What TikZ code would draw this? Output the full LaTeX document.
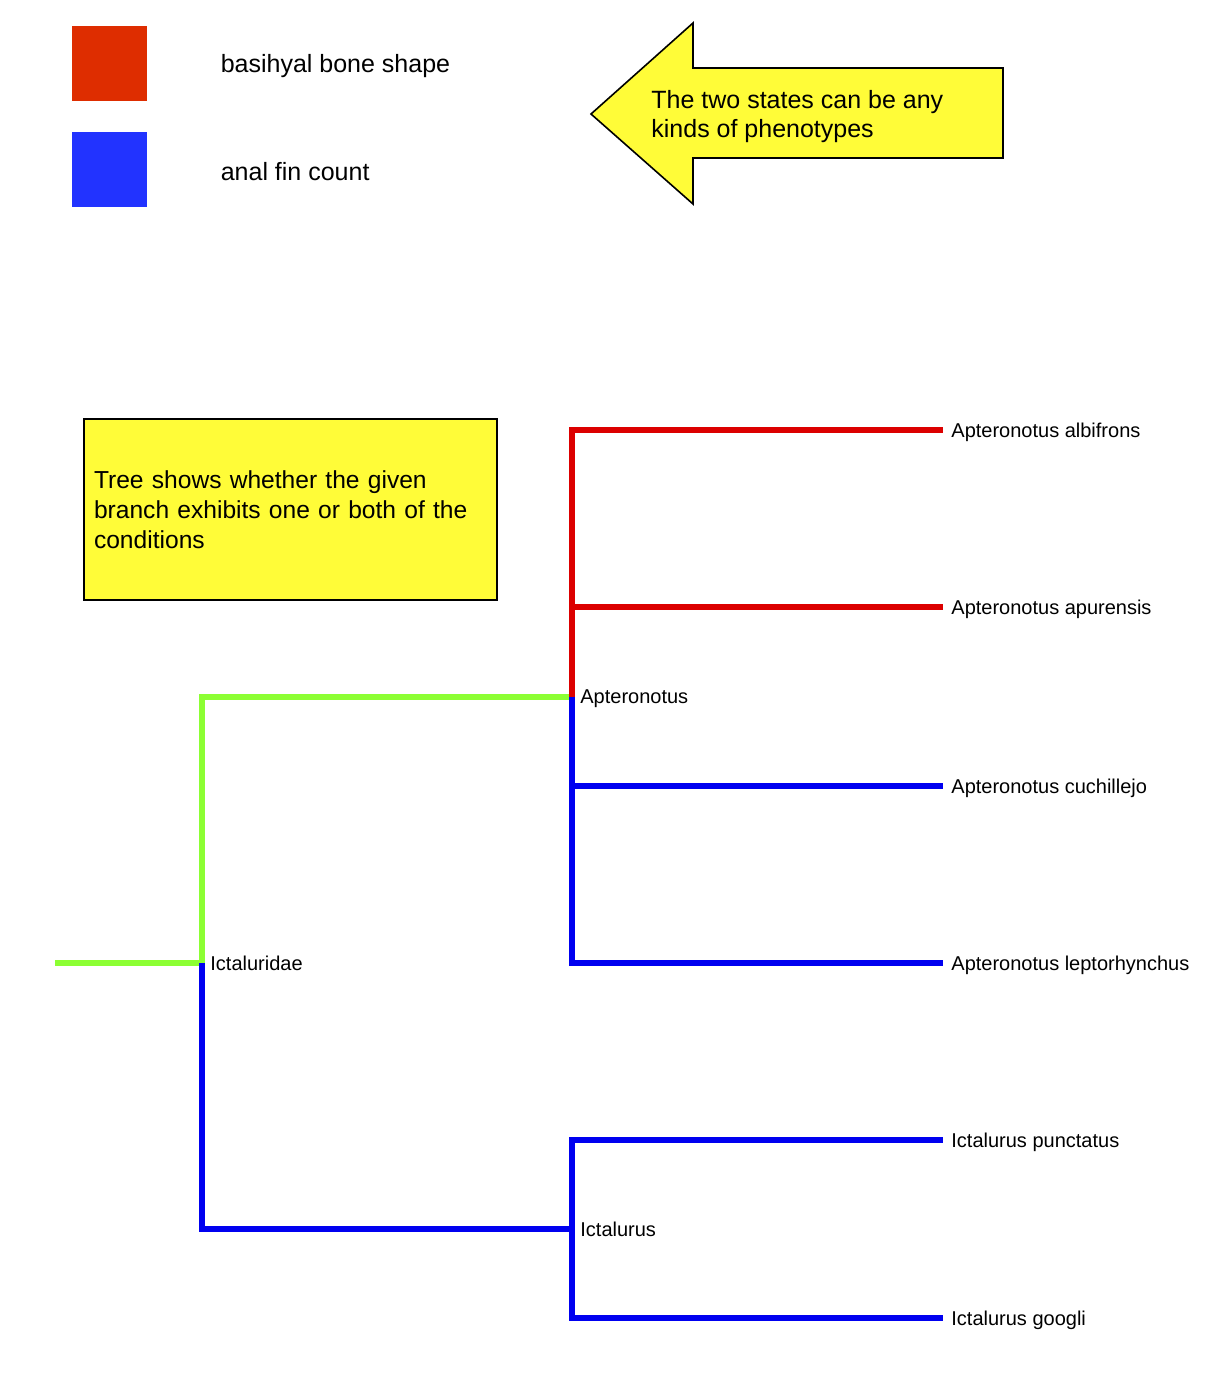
\documentclass[tikz,border=0pt]{standalone}
\usepackage{fontspec}
\setmainfont{Liberation Sans}
\usetikzlibrary{positioning}

\definecolor{keyred}{RGB}{222,45,0}
\definecolor{keyblue}{RGB}{34,51,255}
\definecolor{branchred}{RGB}{220,0,0}
\definecolor{branchblue}{RGB}{0,0,240}
\definecolor{branchgreen}{RGB}{140,255,51}
\definecolor{noteyellow}{RGB}{255,252,56}

\tikzset{
  branch/.style={line width=3.2pt},
  taxon/.style={inner sep=0pt, yshift=-1pt, font=\fontsize{10}{12}\selectfont},
  keybox/.style={minimum size=37.5pt, inner sep=0pt},
  keytext/.style={inner sep=0pt, font=\fontsize{12.5}{14.5}\selectfont},
  notebox/.style={draw=black, line width=0.8pt, fill=noteyellow}
}

\begin{document}
\begin{tikzpicture}[x=0.5pt, y=-0.5pt]
    \useasboundingbox (0,0) rectangle (1230,1392);

    % legend
    \node [keybox, fill=keyred]  (redkey)  at (109.5, 63.5) {};
    \node [keybox, fill=keyblue] (bluekey) at (109.5,169.5) {};
    \node [keytext, yshift=-1.5pt, right=36.5pt of redkey]  (redtext)  {basihyal bone shape};
    \node [keytext, yshift=-1pt, right=36.5pt of bluekey] (bluetext) {anal fin count};

    % arrow note
    \path [notebox] (591,114) -- (693,23) -- (693,68) -- (1003,68) -- (1003,158)
        -- (693,158) -- (693,204) -- cycle;
    \node [keytext, align=left, anchor=west] (arrowtext) at (651,117)
        {The two states can be any\\kinds of phenotypes};

    % box note
    \node [notebox, keytext, inner sep=5pt, text width=196.5pt, minimum height=90.5pt,
        align=left, font=\fontsize{12.3}{15}\selectfont] (treenote) at (290.5,509.5)
        {Tree shows whether the given\\branch exhibits one or both of the\\conditions};

    % tree
    \coordinate (root)        at ( 55, 963);
    \coordinate (ictaluridae) at (202, 963);
    \coordinate (apteronotus) at (572, 697);
    \coordinate (ictalurus)   at (572,1229);
    \coordinate (albifrons)   at (943, 430);
    \coordinate (apurensis)   at (943, 607);
    \coordinate (cuchillejo)  at (943, 786);
    \coordinate (leptor)      at (943, 963);
    \coordinate (punctatus)   at (943,1140);
    \coordinate (googli)      at (943,1318);

    \draw [branch, branchgreen] (root) -- (ictaluridae);
    \draw [branch, branchgreen] (ictaluridae) |- (apteronotus);
    \draw [branch, branchblue]  (ictaluridae) |- (ictalurus);
    \draw [branch, branchred]   (apteronotus) |- (albifrons);
    \draw [branch, branchred]   (apteronotus) |- (apurensis);
    \draw [branch, branchblue]  (apteronotus) |- (cuchillejo);
    \draw [branch, branchblue]  (apteronotus) |- (leptor);
    \draw [branch, branchblue]  (ictalurus) |- (punctatus);
    \draw [branch, branchblue]  (ictalurus) |- (googli);

    % labels
    \node [taxon, yshift=1pt, right=4pt of ictaluridae] (ictaluridaelabel) {Ictaluridae};
    \node [taxon, right=4pt of apteronotus] (apteronotuslabel) {Apteronotus};
    \node [taxon, yshift=1pt, right=4pt of ictalurus]   (ictaluruslabel)   {Ictalurus};
    \node [taxon, right=4pt of albifrons]   (albifronslabel)   {Apteronotus albifrons};
    \node [taxon, right=4pt of apurensis]   (apurensislabel)   {Apteronotus apurensis};
    \node [taxon, right=4pt of cuchillejo]  (cuchillejolabel)  {Apteronotus cuchillejo};
    \node [taxon, right=4pt of leptor]      (leptorlabel)      {Apteronotus leptorhynchus};
    \node [taxon, right=4pt of punctatus]   (punctatuslabel)   {Ictalurus punctatus};
    \node [taxon, right=4pt of googli]      (googlilabel)      {Ictalurus googli};
\end{tikzpicture}
\end{document}
